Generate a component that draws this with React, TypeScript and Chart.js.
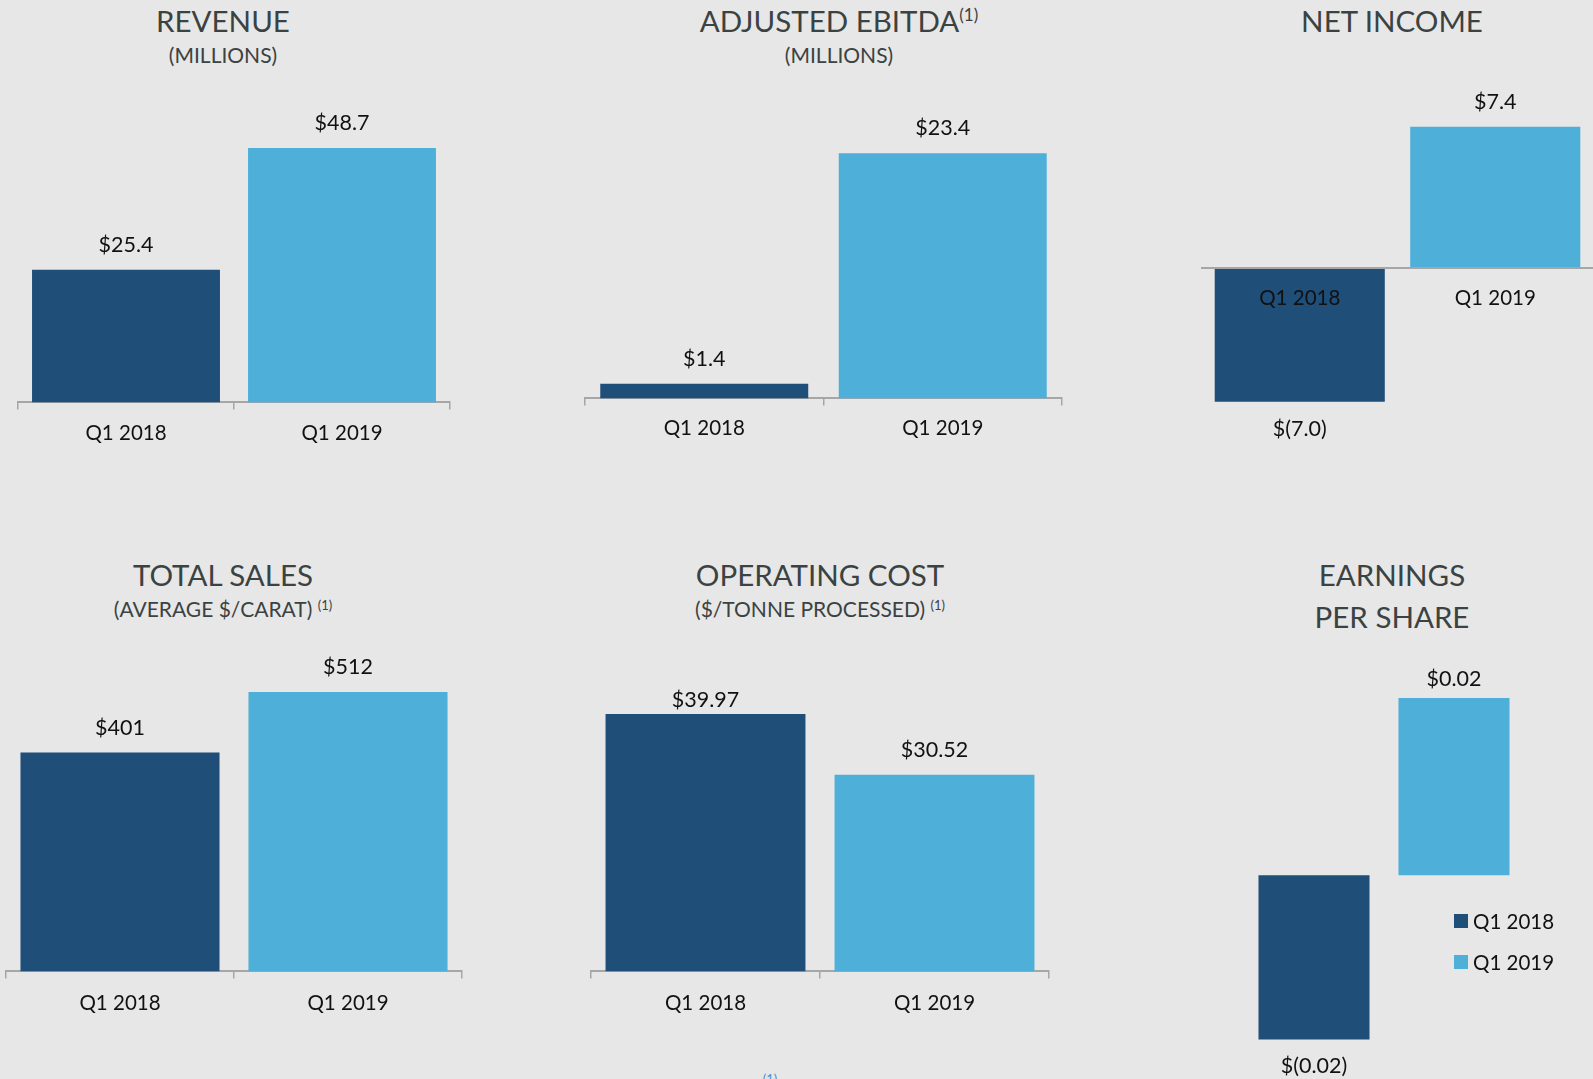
import React, { useEffect, useRef } from 'react';
import { Chart, registerables } from 'chart.js';

Chart.register(...registerables);
Chart.defaults.font.family = 'Lato';

// ---- data ----
const categories = ['Q1 2018', 'Q1 2019'];
const revenue = [25.4, 48.7];
const adjustedEbitda = [1.4, 23.4];
const netIncome = [-7.0, 7.4];
const totalSales = [401, 512];
const operatingCost = [39.97, 30.52];
const earningsPerShare = [-0.0199, 0.0215];
const seriesColors = ['#1f4e79', '#4eb0d9'];

const BG = '#e7e7e7';
const TITLE = '#3b4242';
const INK = '#111111';
const AXIS = '#a6a6a6';
const BASE_K = 0.887; // baseline offset (em) for line-height 1
const TICK_SIZE = 20.5;
const VALUE_SIZE = 21.5;

type Panel = {
  id: string;
  values: number[];
  decimals: number;
  left: number; top: number; width: number; height: number;
  pad: { left: number; right: number; top: number; bottom: number };
  yMin: number; yMax: number;
  barPct: number;
  axis: 'bottom' | 'zero' | 'none';
  tickPad: number;
};

const panels: Panel[] = [
  { id: 'revenue', values: revenue, decimals: 1, left: 8, top: 89, width: 452, height: 369, pad: { left: 10, right: 10, top: 0, bottom: 0 }, yMin: 0, yMax: 60, barPct: 0.87, axis: 'bottom', tickPad: 12 },
  { id: 'ebitda', values: adjustedEbitda, decimals: 1, left: 575, top: 84, width: 497, height: 368, pad: { left: 10, right: 10, top: 0, bottom: 0 }, yMin: 0, yMax: 30, barPct: 0.872, axis: 'bottom', tickPad: 11 },
  { id: 'net', values: netIncome, decimals: 1, left: 1192, top: 77, width: 411, height: 377, pad: { left: 10, right: 10, top: 0, bottom: 14 }, yMin: -9, yMax: 10, barPct: 0.87, axis: 'zero', tickPad: 18 },
  { id: 'sales', values: totalSales, decimals: 0, left: 0, top: 644, width: 472, height: 385, pad: { left: 6, right: 10, top: 0, bottom: 0 }, yMin: 0, yMax: 600, barPct: 0.873, axis: 'bottom', tickPad: 13 },
  { id: 'opcost', values: operatingCost, decimals: 2, left: 581, top: 688, width: 478, height: 341, pad: { left: 10, right: 10, top: 0, bottom: 0 }, yMin: 0, yMax: 44, barPct: 0.873, axis: 'bottom', tickPad: 13 },
  { id: 'eps', values: earningsPerShare, decimals: 2, left: 1244, top: 667, width: 280, height: 412, pad: { left: 0, right: 0, top: 0, bottom: 0 }, yMin: -0.02469, yMax: 0.02525, barPct: 0.793, axis: 'none', tickPad: 0 },
];

const money = (v: number, d: number) =>
  v < 0 ? `$(${Math.abs(v).toFixed(d)})` : `$${v.toFixed(d)}`;

function BarPanel({ p }: { p: Panel }) {
  const ref = useRef<HTMLCanvasElement>(null);
  useEffect(() => {
    const labelPlugin = {
      id: 'valueLabels_' + p.id,
      afterDatasetsDraw(chart: any) {
        const { ctx, chartArea } = chart;
        const meta = chart.getDatasetMeta(0);
        ctx.save();
        ctx.font = `${VALUE_SIZE}px Lato`;
        ctx.fillStyle = INK;
        ctx.textAlign = 'center';
        ctx.textBaseline = 'alphabetic';
        meta.data.forEach((bar: any, i: number) => {
          const v = p.values[i];
          const { x, y } = bar.getProps(['x', 'y'], true);
          const ty = v >= 0 ? Math.max(y - 18, chartArea.top + 19) : y + 34;
          ctx.fillText(money(v, p.decimals), x, ty);
        });
        ctx.restore();
      },
    };

    let xScale: any;
    const tickFont = { size: TICK_SIZE, family: 'Lato' };
    if (p.axis === 'bottom') {
      xScale = {
        position: 'bottom',
        offset: true,
        grid: { display: true, drawOnChartArea: false, drawTicks: true, tickLength: 7, color: AXIS, lineWidth: 1.5, offset: true },
        border: { display: true, color: AXIS, width: 2 },
        ticks: { color: INK, font: tickFont, padding: p.tickPad, maxRotation: 0, autoSkip: false },
      };
    } else if (p.axis === 'zero') {
      xScale = {
        position: { y: 0 },
        offset: true,
        grid: { display: false, drawTicks: false },
        border: { display: true, color: AXIS, width: 2, z: 1 },
        ticks: { color: INK, font: tickFont, padding: p.tickPad, maxRotation: 0, autoSkip: false, z: 1 },
      };
    } else {
      xScale = { display: false, offset: true };
    }

    const chart = new Chart(ref.current as HTMLCanvasElement, {
      type: 'bar',
      data: {
        labels: categories,
        datasets: [
          {
            label: p.id,
            data: p.values,
            backgroundColor: seriesColors,
            borderWidth: 0,
            barPercentage: p.barPct,
            categoryPercentage: 1,
          },
        ],
      },
      options: {
        responsive: false,
        animation: false,
        devicePixelRatio: 1,
        layout: { padding: p.pad },
        plugins: { legend: { display: false }, tooltip: { enabled: false } },
        scales: {
          x: xScale,
          y: { display: false, min: p.yMin, max: p.yMax, grid: { display: false } },
        },
      } as any,
      plugins: [labelPlugin as any],
    });
    return () => chart.destroy();
  }, []);
  return (
    <canvas
      ref={ref}
      width={p.width}
      height={p.height}
      style={{ position: 'absolute', left: p.left, top: p.top, width: p.width, height: p.height }}
    />
  );
}

function Label({ cx, baseline, size, children, color = TITLE }: any) {
  return (
    <div
      style={{
        position: 'absolute',
        left: cx - 300,
        width: 600,
        top: baseline - BASE_K * size,
        fontSize: size,
        lineHeight: `${size}px`,
        textAlign: 'center',
        whiteSpace: 'nowrap',
        fontFamily: 'Lato',
        color,
      }}
    >
      {children}
    </div>
  );
}

const Sup = ({ size, lift, children }: any) => (
  <span style={{ fontSize: size, position: 'relative', top: -lift }}>{children}</span>
);

export default function App() {
  useEffect(() => {
    document.body.style.margin = '0';
    document.body.style.background = BG;
  }, []);
  const T = 29.5;
  const S = 21;
  return (
    <div style={{ position: 'absolute', left: 0, top: 0, width: 1593, height: 1079, background: BG, overflow: 'hidden' }}>
      <Label cx={223} baseline={32} size={T}>REVENUE</Label>
      <Label cx={223} baseline={63} size={S}>(MILLIONS)</Label>
      <Label cx={839} baseline={32} size={T}>ADJUSTED EBITDA<Sup size={17} lift={11}>(1)</Sup></Label>
      <Label cx={839} baseline={63} size={S}>(MILLIONS)</Label>
      <Label cx={1392} baseline={32} size={T}>NET INCOME</Label>
      <Label cx={223} baseline={586} size={T}>TOTAL SALES</Label>
      <Label cx={223} baseline={617} size={S}>(AVERAGE $/CARAT) <Sup size={13} lift={7}>(1)</Sup></Label>
      <Label cx={820} baseline={586} size={T}>OPERATING COST</Label>
      <Label cx={820} baseline={617} size={S}>($/TONNE PROCESSED) <Sup size={13} lift={7}>(1)</Sup></Label>
      <Label cx={1392} baseline={586} size={T}>EARNINGS</Label>
      <Label cx={1392} baseline={628} size={T}>PER SHARE</Label>
      <Label cx={770} baseline={1085} size={13} color="#4a90d0">(1)</Label>
      {panels.map((p) => (
        <BarPanel key={p.id} p={p} />
      ))}
      {categories.map((c, i) => (
        <React.Fragment key={c}>
          <div style={{ position: 'absolute', left: 1454, top: 914 + i * 41, width: 14, height: 14, background: seriesColors[i] }} />
          <div style={{ position: 'absolute', left: 1473, top: 921 + i * 41 - 11, height: 22, lineHeight: '22px', fontSize: TICK_SIZE, fontFamily: 'Lato', color: INK, whiteSpace: 'nowrap' }}>{c}</div>
        </React.Fragment>
      ))}
    </div>
  );
}
